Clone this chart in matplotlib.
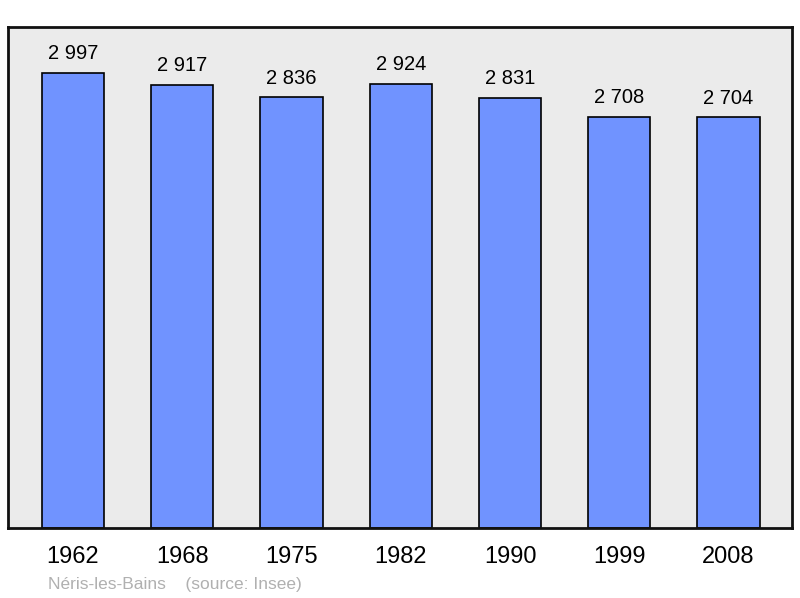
import matplotlib
matplotlib.use("Agg")
import matplotlib.pyplot as plt

plt.rcParams['font.family'] = ['Liberation Sans', 'DejaVu Sans']

years = ['1962', '1968', '1975', '1982', '1990', '1999', '2008']
population = [2997, 2917, 2836, 2924, 2831, 2708, 2704]
value_labels = ['2 997', '2 917', '2 836', '2 924', '2 831', '2 708', '2 704']

fig = plt.figure(figsize=(8, 5.98), dpi=100)
ax = fig.add_axes([0.01, 0.117, 0.98, 0.838])
ax.set_facecolor('#ebebeb')

x = list(range(len(years)))
ax.bar(x, population, width=0.57, color='#7093ff', edgecolor='black', linewidth=1.2, zorder=2)

for xi, v, lab in zip(x, population, value_labels):
    ax.annotate(lab, (xi, v), xytext=(0, 7), textcoords='offset points',
                ha='center', va='bottom', fontsize=14.5)

ax.set_xlim(-0.595, 6.58)
ax.set_ylim(0, 3300)
ax.set_xticks(x)
ax.set_xticklabels(years, fontsize=17)
ax.tick_params(axis='x', length=0, pad=13)
ax.set_yticks([])
for s in ax.spines.values():
    s.set_linewidth(2)
    s.set_color('#111111')

fig.text(0.06, 0.01, 'Néris-les-Bains    (source: Insee)', fontsize=12.5, color='#b0b0b0', va='bottom')

fig.savefig('out.png', dpi=100)
